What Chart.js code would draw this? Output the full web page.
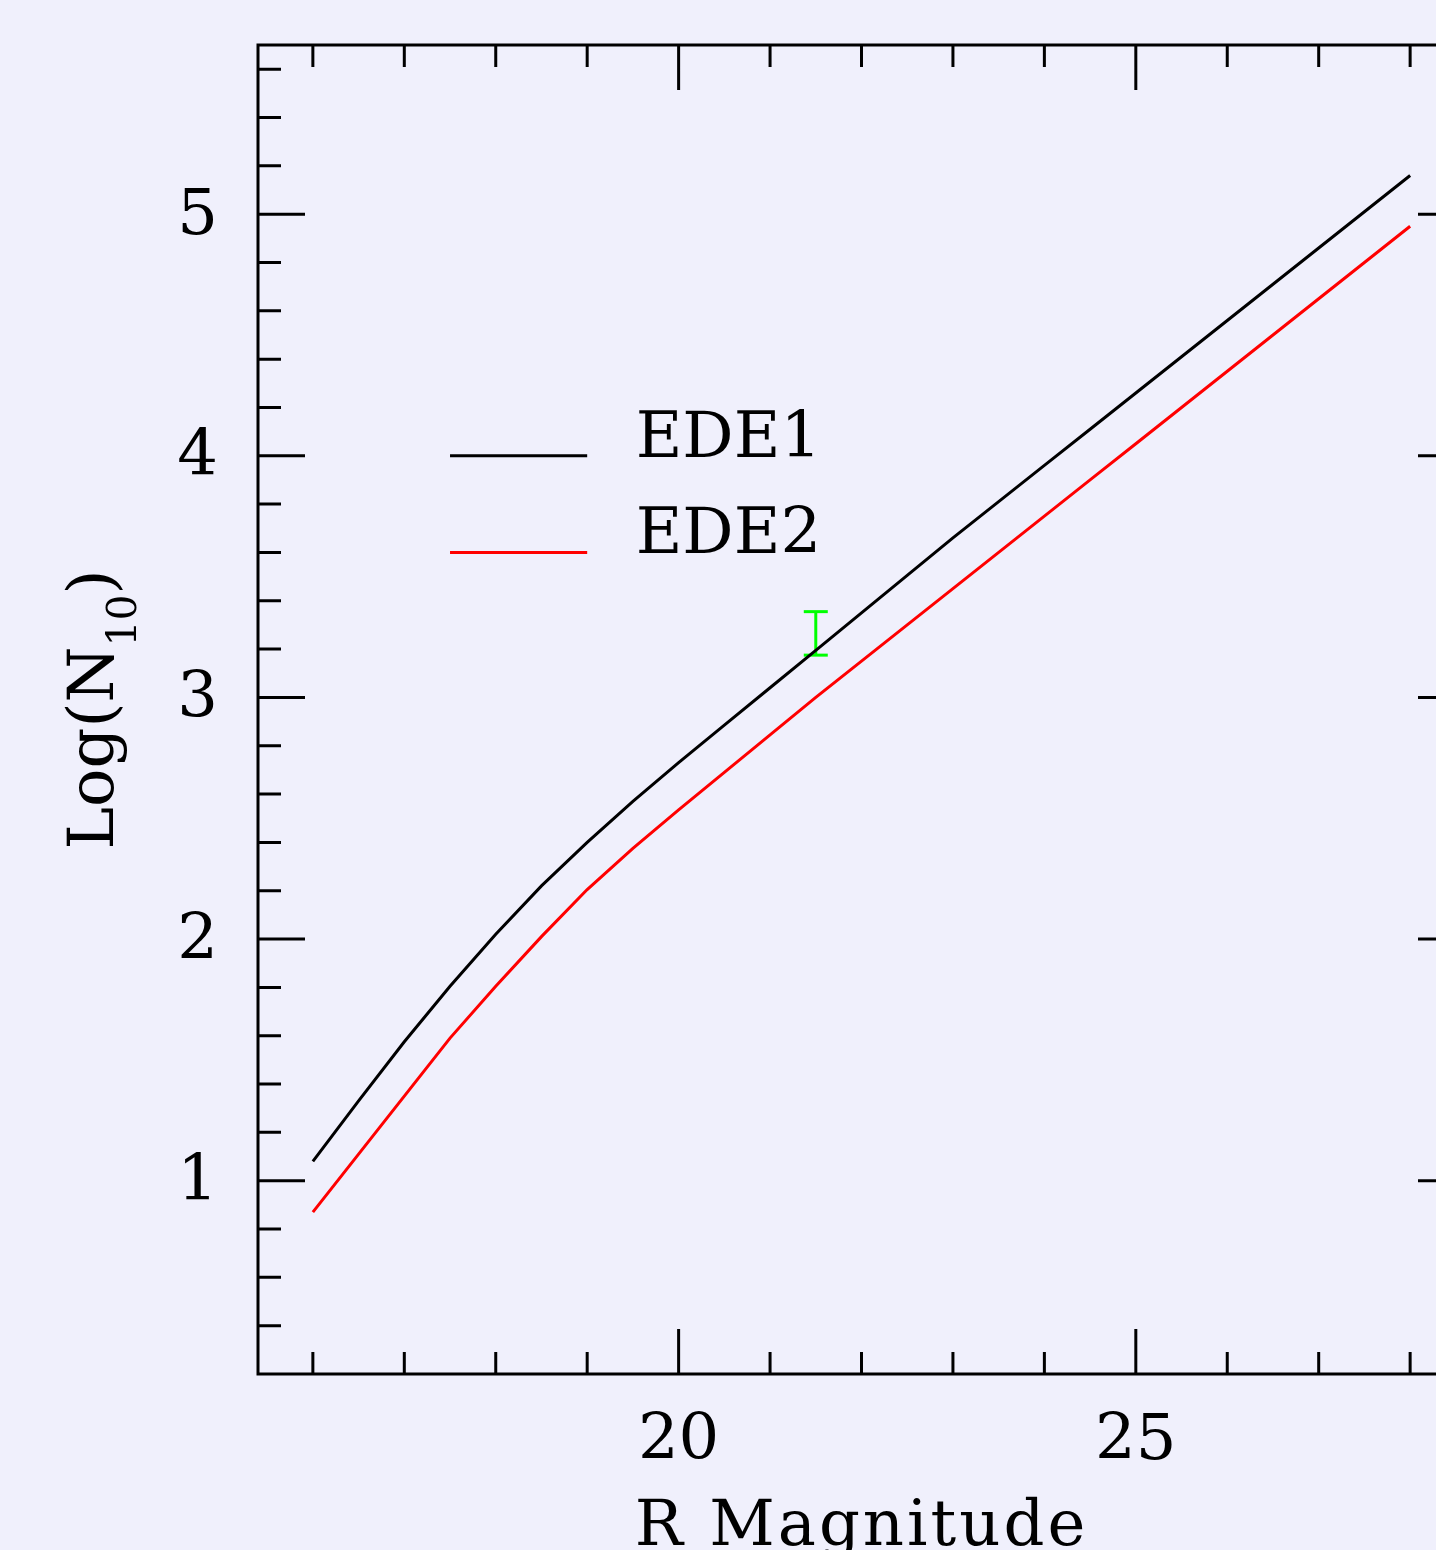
<!DOCTYPE html>
<html><head><meta charset="utf-8">
<script src="https://cdn.jsdelivr.net/npm/chart.js@4.4.1/dist/chart.umd.min.js"></script>
<style>
html,body{margin:0;padding:0;background:#f0f0fc;overflow:hidden;width:1436px;height:1550px;}
canvas{display:block;}
</style></head><body>
<canvas id="c" width="1500" height="1550"></canvas>
<script>
// ---- data ----
const magnitudes = [16.0,16.5,17.0,17.5,18.0,18.5,19.0,19.5,20.0,20.5,21.0,21.5,22.0,22.5,23.0,23.5,24.0,24.5,25.0,25.5,26.0,26.5,27.0,27.5,28.0];
const ede1 = [1.08,1.33,1.575,1.805,2.02,2.22,2.40,2.57,2.73,2.885,3.04,3.195,3.35,3.505,3.66,3.81,3.96,4.11,4.26,4.41,4.56,4.71,4.86,5.01,5.16];
const ede2 = [0.87,1.11,1.35,1.59,1.805,2.01,2.205,2.375,2.535,2.69,2.845,3.00,3.15,3.30,3.45,3.60,3.75,3.90,4.05,4.20,4.35,4.50,4.65,4.80,4.95];
const errMag = [21.5];
const errLow = [3.175];
const errHigh = [3.355];
const seriesNames = ['EDE1','EDE2'];
const xLabelTicks = [20,25];
const yLabelTicks = [1,2,3,4,5];
const xTitle = 'R Magnitude';
const yTitleMain = 'Log(N';
const yTitleSub = '10';
const yTitleEnd = ')';

// ---- styling / layout ----
const FONT = 'DejaVu Serif';
const FS = 64;
const seriesColors = ['#000000','#ff0000'];
const legendPos = {x0:17.5, x1:19.0, xText:19.53, y:[4.0,3.6]};

const pts = (xs, ys) => xs.map((v,i)=>({x:v, y:ys[i]}));
const isInt = v => Math.abs(v - Math.round(v)) < 1e-6;

const framePlugin = {
  id:'frame',
  afterDraw(chart){
    const {ctx, chartArea:a, scales:{x,y}} = chart;
    ctx.save();
    ctx.strokeStyle = '#000'; ctx.lineWidth = 3; ctx.lineCap = 'butt';
    ctx.beginPath();
    ctx.rect(a.left, a.top, a.right-a.left, a.bottom-a.top);
    x.ticks.forEach(t=>{
      const px = x.getPixelForValue(t.value);
      const len = (isInt(t.value) && Math.round(t.value)%5===0) ? 45 : 22;
      ctx.moveTo(px, a.bottom); ctx.lineTo(px, a.bottom-len);
      ctx.moveTo(px, a.top); ctx.lineTo(px, a.top+len);
    });
    y.ticks.forEach(t=>{
      const py = y.getPixelForValue(t.value);
      const len = isInt(t.value) ? 47 : 23;
      ctx.moveTo(a.left, py); ctx.lineTo(a.left+len, py);
      ctx.moveTo(a.right, py); ctx.lineTo(a.right-len, py);
    });
    ctx.stroke();

    // legend
    ctx.font = FS+'px "'+FONT+'"';
    ctx.textBaseline = 'alphabetic'; ctx.textAlign = 'left';
    seriesNames.forEach((n,i)=>{
      const py = y.getPixelForValue(legendPos.y[i]);
      ctx.strokeStyle = seriesColors[i]; ctx.lineWidth = 3;
      ctx.beginPath();
      ctx.moveTo(x.getPixelForValue(legendPos.x0), py);
      ctx.lineTo(x.getPixelForValue(legendPos.x1), py);
      ctx.stroke();
      ctx.fillStyle = '#000';
      ctx.fillText(n, x.getPixelForValue(legendPos.xText), py+1);
    });

    // x title
    ctx.textAlign = 'center';
    ctx.letterSpacing = '3px';
    ctx.fillText(xTitle, (a.left+a.right)/2, a.bottom+171);
    ctx.letterSpacing = '0px';

    // y title with subscript
    const subFS = 41;
    ctx.translate(a.left-145, (a.top+a.bottom)/2);
    ctx.rotate(-Math.PI/2);
    ctx.textAlign = 'left';
    ctx.font = FS+'px "'+FONT+'"';
    const w1 = ctx.measureText(yTitleMain).width;
    const w3 = ctx.measureText(yTitleEnd).width;
    ctx.font = subFS+'px "'+FONT+'"';
    const w2 = ctx.measureText(yTitleSub).width;
    let sx = -(w1+w2+w3)/2;
    ctx.font = FS+'px "'+FONT+'"';
    ctx.fillText(yTitleMain, sx, 0); sx += w1;
    ctx.font = subFS+'px "'+FONT+'"';
    ctx.fillText(yTitleSub, sx, 23); sx += w2;
    ctx.font = FS+'px "'+FONT+'"';
    ctx.fillText(yTitleEnd, sx, 0);
    ctx.restore();
  }
};

Chart.defaults.font.family = FONT;
Chart.defaults.color = '#000';

new Chart(document.getElementById('c'), {
  type:'scatter',
  data:{
    datasets:[
      {label:seriesNames[0], data:pts(magnitudes, ede1), showLine:true, borderColor:seriesColors[0], borderWidth:3, pointRadius:0, tension:0},
      {label:seriesNames[1], data:pts(magnitudes, ede2), showLine:true, borderColor:seriesColors[1], borderWidth:3, pointRadius:0, tension:0},
      {label:'err', data:[{x:errMag[0], y:errLow[0]},{x:errMag[0], y:errHigh[0]}], showLine:true, borderColor:'#00ff00', borderWidth:3,
       pointStyle:'line', pointRadius:12, pointBorderColor:'#00ff00', pointBorderWidth:3, pointHoverRadius:12}
    ]
  },
  options:{
    responsive:false, animation:false, devicePixelRatio:1,
    layout:{padding:{top:45, right:35, left:0, bottom:0}},
    plugins:{legend:{display:false}, tooltip:{enabled:false}},
    events:[],
    scales:{
      x:{type:'linear', min:15.4, max:28.6,
         grid:{display:false, drawTicks:false}, border:{display:false},
         ticks:{stepSize:1, includeBounds:false, autoSkip:false, maxRotation:0, padding:36,
                font:{size:FS, lineHeight:1},
                callback:v=> xLabelTicks.some(t=>Math.abs(t-v)<1e-6) ? String(Math.round(v)) : ''},
         afterFit:s=>{s.height = 176; s.paddingLeft = 0; s.paddingRight = 0; s.paddingTop = 0; s.paddingBottom = 0;}},
      y:{type:'linear', min:0.2, max:5.7,
         grid:{display:false, drawTicks:false}, border:{display:false},
         ticks:{stepSize:0.2, includeBounds:false, autoSkip:false, padding:40, labelOffset:3,
                font:{size:FS, lineHeight:1},
                callback:v=> yLabelTicks.some(t=>Math.abs(t-v)<1e-6) ? String(Math.round(v)) : ''},
         afterFit:s=>{s.width = 258; s.paddingTop = 0; s.paddingBottom = 0; s.paddingLeft = 0; s.paddingRight = 0;}}
    }
  },
  plugins:[framePlugin]
});
</script>
</body></html>
